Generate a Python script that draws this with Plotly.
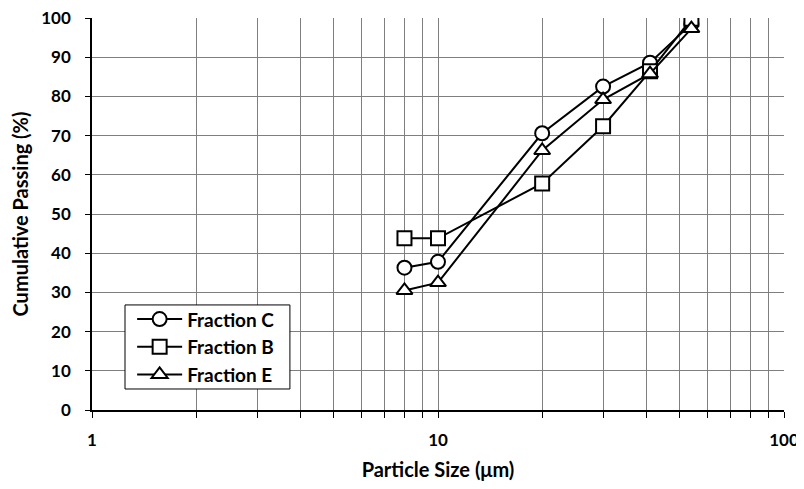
import plotly.graph_objects as go

sizes = [8, 10, 20, 30, 41, 54]
frac_c = [36.3, 37.8, 70.6, 82.5, 88.6, 98.5]
frac_b = [43.8, 43.8, 57.8, 72.4, 86.4, 99.8]
frac_e = [30.5, 32.5, 66.2, 79.2, 85.8, 97.3]

series = [("Fraction C", frac_c, "circle"),
          ("Fraction B", frac_b, "square"),
          ("Fraction E", frac_e, "triangle-up")]

fig = go.Figure()
for name, vals, sym in series:
    fig.add_trace(go.Scatter(
        x=sizes, y=vals, name=name, mode="lines+markers",
        line=dict(color="black", width=2),
        marker=dict(symbol=sym, size=14, color="white",
                    line=dict(color="black", width=2)),
    ))

grid = "#7f7f7f"
minor_vals = [d * m for d in (1, 10) for m in range(2, 10)]
font = "Lato, 'Open Sans', sans-serif"

# legend frame drawn as a shape for tighter padding
fig.add_shape(type="rect", xref="paper", yref="paper",
              x0=0.0477, x1=0.286, y0=0.0536, y1=0.268,
              line=dict(color="black", width=1), fillcolor="white", layer="above")

# page body has an 8px default margin; size the figure to fill the rest
fig.update_layout(
    width=796, height=481,
    margin=dict(l=84, r=20, t=10, b=79),
    paper_bgcolor="white", plot_bgcolor="white",
    font=dict(family=font, color="black", size=16),
    showlegend=True,
    legend=dict(x=0.058, y=0.280, xanchor="left", yanchor="top",
                bgcolor="rgba(0,0,0,0)", borderwidth=0,
                font=dict(size=19, family=font, weight="bold"),
                tracegroupgap=0, itemwidth=45),
    xaxis=dict(
        type="log", range=[0, 2], automargin=False,
        tickvals=[1, 10, 100], ticktext=["1", "10", "100"],
        tickfont=dict(size=17, weight="bold"),
        ticklabeloverflow="allow",
        showgrid=True, gridcolor=grid, gridwidth=1,
        showline=True, linecolor="black", linewidth=1.5, mirror=False,
        ticks="outside", ticklen=6, tickcolor="black",
        ticklabelstandoff=8,
        minor=dict(tickvals=minor_vals, showgrid=True, gridcolor=grid,
                   gridwidth=1, ticks="outside", ticklen=6, tickcolor="black"),
        title=dict(text="Particle Size (μm)", font=dict(size=20, weight="bold"), standoff=14),
        zeroline=False,
    ),
    yaxis=dict(
        range=[0, 100], dtick=10, automargin=False,
        tickfont=dict(size=17, weight="bold"),
        ticklabeloverflow="allow",
        showgrid=True, gridcolor=grid, gridwidth=1,
        showline=True, linecolor="black", linewidth=1.5,
        ticks="outside", ticklen=5, tickcolor="black",
        ticklabelstandoff=11,
        title=dict(text="Cumulative Passing (%)", font=dict(size=20, weight="bold"), standoff=12),
        zeroline=False,
    ),
)

fig.write_html("out.html")
